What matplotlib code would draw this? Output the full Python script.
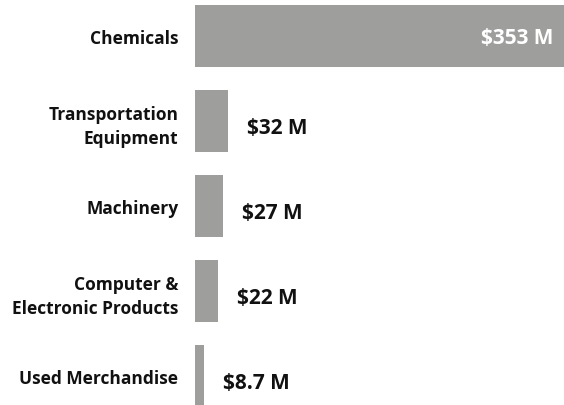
import matplotlib
matplotlib.use("Agg")
import matplotlib.pyplot as plt
from matplotlib.transforms import offset_copy

categories = ["Chemicals", "Transportation\nEquipment", "Machinery",
              "Computer &\nElectronic Products", "Used Merchandise"]
values = [353, 32, 27, 22, 8.7]
value_labels = ["$353 M", "$32 M", "$27 M", "$22 M", "$8.7 M"]

plt.rcParams['font.family'] = ['Open Sans', 'DejaVu Sans']

fig = plt.figure(figsize=(5.64, 4.06), dpi=100)
ax = fig.add_axes([195/564, 0, 1 - 195/564, 1])
bar_color = "#9e9e9c"
ypos = list(range(len(categories)))
ax.barh(ypos, values, height=0.73, color=bar_color)
ax.set_xlim(0, 353)
ax.set_ylim((406 - 37) / 85, -37 / 85)
for s in ax.spines.values():
    s.set_visible(False)
ax.set_xticks([])
ax.set_yticks(ypos)
ax.set_yticklabels(categories, fontsize=12.5, fontweight='bold', color='#111111',
                   linespacing=1.4)
ax.tick_params(axis='y', length=0, pad=12)

for i, (v, lab) in enumerate(zip(values, value_labels)):
    if i == 0:
        tr = offset_copy(ax.transData, fig=fig, x=-11, y=-2, units='dots')
        ax.text(v, i, lab, transform=tr, ha='right', va='center', color='white',
                fontsize=15, fontweight='bold')
    else:
        tr = offset_copy(ax.transData, fig=fig, x=19, y=-7, units='dots')
        ax.text(v, i, lab, transform=tr, ha='left', va='center', color='#111111',
                fontsize=15, fontweight='bold')

fig.savefig("out.png", dpi=100)
